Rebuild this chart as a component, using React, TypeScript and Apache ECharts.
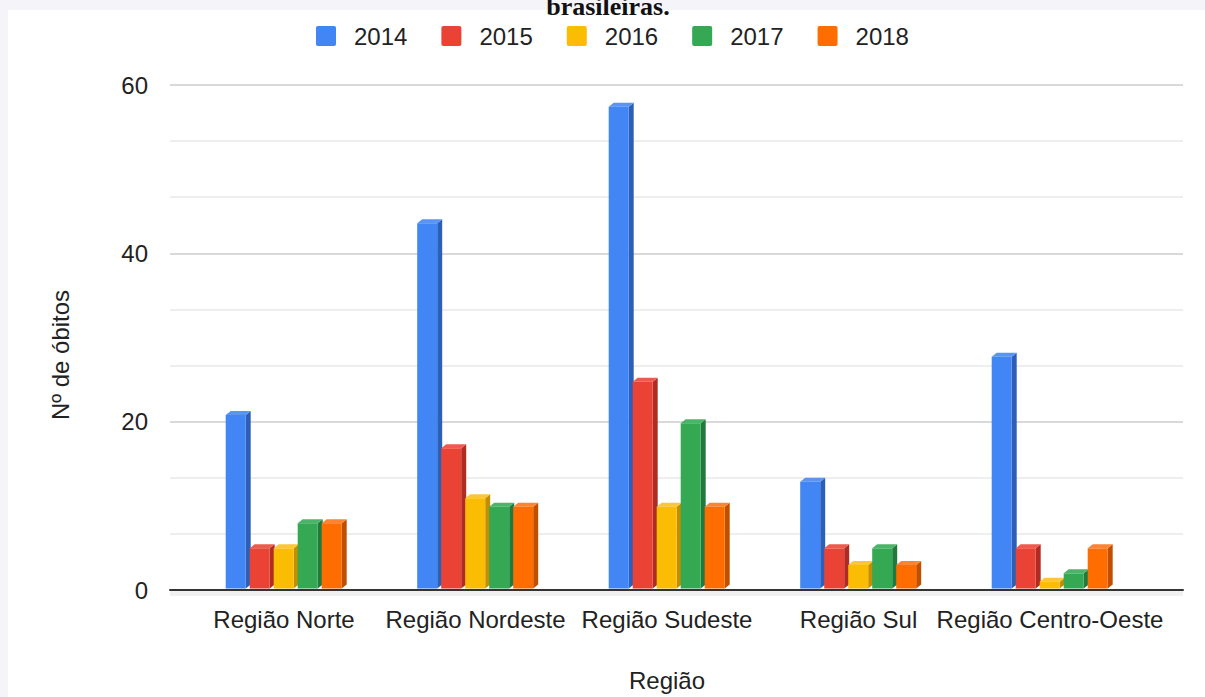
import React, { useEffect, useRef } from "react";
import * as echarts from "echarts";

const categories = ["Região Norte", "Região Nordeste", "Região Sudeste", "Região Sul", "Região Centro-Oeste"];
const years = ["2014", "2015", "2016", "2017", "2018"];
const v2014 = [21, 44, 58, 13, 28];
const v2015 = [5, 17, 25, 5, 5];
const v2016 = [5, 11, 10, 3, 1];
const v2017 = [8, 10, 20, 5, 2];
const v2018 = [8, 10, 10, 3, 5];
const yTicks = [0, 20, 40, 60];

const seriesValues = [v2014, v2015, v2016, v2017, v2018];
const frontColors = ["#4285f4", "#ea4335", "#fbbc04", "#34a853", "#ff6d01"];
const sideColors = ["#2c5fb8", "#b02b21", "#c28f00", "#217a3b", "#c04f00"];
const topColors = ["#5a95f5", "#ee5a4d", "#fcc634", "#4cb468", "#ff8330"];

const FONT = "'Liberation Sans', Arial, sans-serif";

export default function App() {
  const ref = useRef<HTMLDivElement>(null);
  useEffect(() => {
    document.body.style.margin = "0";
    const chart = echarts.init(ref.current!, null, { renderer: "svg" });
    const series: any[] = seriesValues.map((vals, s) => ({
      type: "custom",
      name: years[s],
      xAxisIndex: 1,
      yAxisIndex: 1,
      itemStyle: { color: frontColors[s] },
      data: vals.map((v, i) => [i, v]),
      renderItem: (params: any, api: any) => {
        const cat = api.value(0);
        const v = api.value(1);
        const top = api.coord([cat, v]);
        const base = api.coord([cat, 0]);
        const fl = top[0] - 58.3 + s * 24;
        const w = 20;
        const dx = 5;
        const dy = 4;
        const ft = top[1] + 5;
        const fb = base[1] + 3.5;
        return {
          type: "group",
          children: [
            {
              type: "polygon",
              shape: { points: [[fl + w, ft], [fl + w + dx, ft - dy], [fl + w + dx, fb - dy], [fl + w, fb]] },
              style: { fill: sideColors[s] },
            },
            {
              type: "polygon",
              shape: { points: [[fl, ft], [fl + dx, ft - dy], [fl + w + dx, ft - dy], [fl + w, ft]] },
              style: { fill: topColors[s] },
            },
            {
              type: "rect",
              shape: { x: fl, y: ft, width: w, height: fb - ft },
              style: { fill: frontColors[s] },
            },
          ],
        };
      },
    }));

    chart.setOption({
      animation: false,
      backgroundColor: "#ffffff",
      textStyle: { fontFamily: FONT },
      graphic: [
        { type: "rect", shape: { x: 0, y: 0, width: 1205, height: 10 }, style: { fill: "#f4f4f9" }, z: -10 },
        { type: "rect", shape: { x: 0, y: 0, width: 8, height: 697 }, style: { fill: "#f4f4f9" }, z: -10 },
        { type: "rect", shape: { x: 170, y: 591, width: 1013, height: 5 }, style: { fill: "#f0f0f0" }, z: -5 },
        {
          type: "text",
          x: 608,
          y: 19,
          style: {
            text: "brasileiras.",
            fontFamily: "'Liberation Serif', 'Times New Roman', serif",
            fontWeight: "bold",
            fontSize: 26,
            fill: "#111",
            align: "center",
            verticalAlign: "bottom",
          },
        },
        {
          type: "text",
          x: 60,
          y: 355,
          rotation: Math.PI / 2,
          style: {
            text: "Nº de óbitos",
            fontFamily: FONT,
            fontSize: 24,
            fill: "#222",
            align: "center",
            verticalAlign: "middle",
          },
        },
      ],
      legend: {
        top: 19,
        left: 311,
        itemWidth: 20,
        itemHeight: 20,
        itemGap: 34,
        icon: "path://M2,0 H18 A2,2 0 0 1 20,2 V18 A2,2 0 0 1 18,20 H2 A2,2 0 0 1 0,18 V2 A2,2 0 0 1 2,0 Z",
        textStyle: { fontSize: 24, color: "#222", fontFamily: FONT, padding: [0, 0, 0, 13] },
        data: years,
      },
      grid: [
        { left: 170, right: 22, top: 85, bottom: 107 },
        { left: 188.25, right: 59.25, top: 85, bottom: 107 },
      ],
      xAxis: [
        {
          gridIndex: 0,
          type: "value",
          min: 0,
          max: 1,
          axisLine: { show: true, onZero: true, lineStyle: { color: "#333", width: 2 } },
          axisTick: { show: false },
          axisLabel: { show: false },
          splitLine: { show: false },
        },
        {
          gridIndex: 1,
          type: "category",
          data: categories,
          axisLine: { show: false },
          axisTick: { show: false },
          axisLabel: { fontSize: 24, color: "#222", margin: 22, fontFamily: FONT, interval: 0 },
          name: "Região",
          nameLocation: "middle",
          nameGap: 83,
          nameTextStyle: { fontSize: 24, color: "#222", fontFamily: FONT },
        },
      ],
      yAxis: [
        {
          gridIndex: 0,
          type: "value",
          min: yTicks[0],
          max: yTicks[yTicks.length - 1],
          interval: 20,
          axisLine: { show: false },
          axisTick: { show: false },
          axisLabel: { fontSize: 24, color: "#222", margin: 22, fontFamily: FONT },
          splitLine: { show: true, lineStyle: { color: "#cccccc", width: 1.5 } },
          minorTick: { show: false, splitNumber: 3 },
          minorSplitLine: { show: true, lineStyle: { color: "#e8e8e8", width: 1.5 } },
        },
        {
          gridIndex: 1,
          type: "value",
          min: 0,
          max: 60,
          show: false,
          splitLine: { show: false },
        },
      ],
      series,
    });
    return () => chart.dispose();
  }, []);
  return <div ref={ref} style={{ position: "absolute", left: 0, top: 0, width: 1205, height: 697 }} />;
}
